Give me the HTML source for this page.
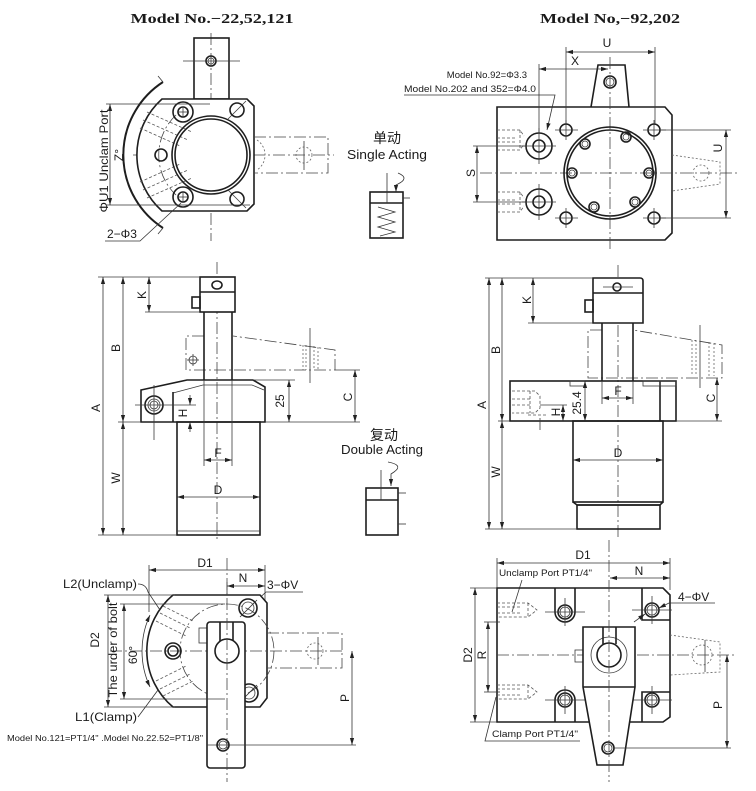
<!DOCTYPE html>
<html><head><meta charset="utf-8"><style>
html,body{margin:0;padding:0;background:#fff;}
svg{display:block;}
.k{stroke:#1e1e1e;stroke-width:1.6;fill:none;}
.kf{stroke:#1e1e1e;stroke-width:1.6;fill:#fff;}
.t{stroke:#3a3a3a;stroke-width:0.8;fill:none;}
.c{stroke:#444;stroke-width:0.8;fill:none;stroke-dasharray:12 3 2 3;}
.h{stroke:#555;stroke-width:0.8;fill:none;stroke-dasharray:3 2;}
.o{stroke:#666;stroke-width:0.8;fill:none;stroke-dasharray:2 2;}
.dm{stroke:#333;stroke-width:0.8;fill:none;}
text{font-family:"Liberation Sans","Noto Sans CJK SC",sans-serif;fill:#1a1a1a;}
.tt{font-family:"Liberation Serif",serif;font-weight:bold;font-size:14px;}
.l{font-size:12px;}
.s{font-size:9.5px;}
</style></head><body>
<svg width="756" height="791" viewBox="0 0 756 791" xmlns="http://www.w3.org/2000/svg">
<defs>
<marker id="a" viewBox="0 0 10 10" refX="10" refY="5" markerWidth="7" markerHeight="7" markerUnits="userSpaceOnUse" orient="auto-start-reverse"><path d="M0,2 L10,5 L0,8 z" fill="#222"/></marker>
</defs>

<!-- ================= TOP LEFT ================= -->
<text class="tt" x="212" y="23" text-anchor="middle" textLength="163" lengthAdjust="spacingAndGlyphs">Model No.−22,52,121</text>
<line class="c" x1="211" y1="33" x2="211" y2="241"/>
<line class="c" x1="133" y1="155" x2="334" y2="155"/>
<rect class="k" x="194" y="38" width="35" height="61"/>
<circle class="k" cx="211" cy="61" r="5"/><circle class="t" cx="211" cy="61" r="3"/>
<line class="t" x1="183" y1="61" x2="240" y2="61"/>
<path class="kf" d="M162,99 L247,99 L254,106 L254,204 L247,211 L162,211 A75,75 0 0 1 162,99 Z"/>
<path d="M163,82 A87,87 0 0 0 163,228" stroke="#1e1e1e" stroke-width="2" fill="none"/>
<line class="t" x1="163" y1="82" x2="158" y2="76"/><line class="t" x1="163" y1="228" x2="158" y2="234"/>
<path class="c" d="M176,115 A55,55 0 0 0 176,195"/>
<line class="h" x1="143" y1="120" x2="188" y2="140"/><line class="h" x1="147" y1="112" x2="192" y2="132"/><line class="h" x1="140" y1="128" x2="180" y2="146"/>
<line class="h" x1="143" y1="190" x2="188" y2="170"/><line class="h" x1="147" y1="198" x2="192" y2="178"/><line class="h" x1="140" y1="182" x2="180" y2="164"/>
<circle class="k" cx="211" cy="155" r="39"/><circle class="k" cx="211" cy="155" r="36"/>
<circle class="k" cx="183" cy="112" r="10"/><circle class="k" cx="183" cy="112" r="5"/>
<line class="t" x1="179" y1="112" x2="187" y2="112"/><line class="t" x1="183" y1="108" x2="183" y2="116"/>
<circle class="k" cx="183" cy="197" r="10"/><circle class="k" cx="183" cy="197" r="5"/>
<line class="t" x1="179" y1="197" x2="187" y2="197"/><line class="t" x1="183" y1="193" x2="183" y2="201"/>
<circle class="k" cx="237" cy="110" r="7"/><line class="t" x1="228" y1="119" x2="246" y2="101"/>
<circle class="k" cx="237" cy="199" r="7"/><line class="t" x1="228" y1="190" x2="246" y2="208"/>
<circle class="k" cx="161" cy="155" r="6"/>
<path class="o" d="M257,140 A18,18 0 0 1 257,170"/>
<path class="c" d="M254,137 L328,137 L328,173 L254,173"/>
<circle class="o" cx="304" cy="155" r="8"/>
<line class="t" x1="304" y1="141" x2="304" y2="170"/>
<line class="dm" x1="106" y1="104" x2="210" y2="104"/><line class="dm" x1="106" y1="205" x2="250" y2="205"/>
<line class="dm" x1="110" y1="104" x2="110" y2="205" marker-start="url(#a)" marker-end="url(#a)"/>
<text class="l" transform="translate(104,161) rotate(-90)" text-anchor="middle" dominant-baseline="central" textLength="103" lengthAdjust="spacingAndGlyphs">ΦU1 Unclam Port</text>
<text class="l" transform="translate(119,155) rotate(-90)" text-anchor="middle" dominant-baseline="central" font-size="11">Z°</text>
<text class="l" x="107" y="238">2−Φ3</text>
<path class="dm" d="M105,241 L140,241 L181,203"/>

<!-- single acting -->
<text x="387" y="143" text-anchor="middle" font-size="14">单动</text>
<text x="387" y="159" text-anchor="middle" font-size="12.5" textLength="80" lengthAdjust="spacingAndGlyphs">Single Acting</text>
<rect class="k" x="370" y="192" width="33" height="46"/>
<line class="k" x1="370" y1="203" x2="403" y2="203"/>
<line class="dm" x1="387" y1="173" x2="387" y2="203"/>
<path class="dm" d="M378,207 L395,212 L378,217 L395,222 L378,227 L395,232 L380,236"/>
<line class="dm" x1="403" y1="198" x2="410" y2="198"/>
<path class="dm" d="M398,173 Q410,178 398,184 L396,185 L396,192" marker-end="url(#a)"/>

<!-- ================= TOP RIGHT ================= -->
<text class="tt" x="610" y="23" text-anchor="middle" textLength="140" lengthAdjust="spacingAndGlyphs">Model No,−92,202</text>
<path class="k" d="M497,107 L665,107 L672,115 L672,233 L665,240 L497,240 Z"/>
<path class="k" d="M591,107 L598,65 L625,65 L629,107"/>
<circle class="k" cx="610" cy="82" r="6"/><circle class="t" cx="610" cy="82" r="4"/>
<line class="c" x1="610" y1="57" x2="610" y2="250"/>
<line class="c" x1="480" y1="173" x2="740" y2="173"/>
<circle class="k" cx="610" cy="173" r="46"/><circle class="k" cx="610" cy="173" r="43"/>
<g class="k">
<circle cx="626" cy="137" r="5"/><circle cx="585" cy="144" r="5"/><circle cx="572" cy="173" r="5"/>
<circle cx="649" cy="173" r="5"/><circle cx="594" cy="207" r="5"/><circle cx="635" cy="202" r="5"/>
</g>
<g class="t">
<circle cx="626" cy="137" r="3"/><circle cx="585" cy="144" r="3"/><circle cx="572" cy="173" r="3"/>
<circle cx="649" cy="173" r="3"/><circle cx="594" cy="207" r="3"/><circle cx="635" cy="202" r="3"/>
</g>
<g class="k">
<circle cx="566" cy="130" r="6"/><circle cx="654" cy="130" r="6"/><circle cx="566" cy="218" r="6"/><circle cx="654" cy="218" r="6"/>
<circle cx="539" cy="146" r="13"/><circle cx="539" cy="146" r="6"/>
<circle cx="539" cy="202" r="13"/><circle cx="539" cy="202" r="6"/>
</g>
<g class="t">
<line x1="555" y1="130" x2="578" y2="130"/><line x1="643" y1="130" x2="666" y2="130"/>
<line x1="555" y1="218" x2="578" y2="218"/><line x1="643" y1="218" x2="666" y2="218"/>
<line x1="566" y1="120" x2="566" y2="140"/><line x1="654" y1="120" x2="654" y2="140"/>
<line x1="566" y1="208" x2="566" y2="228"/><line x1="654" y1="208" x2="654" y2="228"/>
<line x1="522" y1="146" x2="556" y2="146"/><line x1="539" y1="128" x2="539" y2="164"/>
<line x1="522" y1="202" x2="556" y2="202"/><line x1="539" y1="184" x2="539" y2="220"/>
</g>
<path class="h" d="M497,130 L520,130 L524,136 M497,150 L520,150 L524,144 M520,130 L520,150 M497,138 L515,138 M497,142 L515,142"/>
<path class="h" d="M497,192 L520,192 L524,198 M497,212 L520,212 L524,206 M520,192 L520,212 M497,200 L515,200 M497,204 L515,204"/>
<path class="o" d="M672,155 L720,162 L720,184 L672,191"/>
<circle class="o" cx="701" cy="173" r="8"/>
<line class="t" x1="566" y1="47" x2="566" y2="124"/><line class="t" x1="655" y1="47" x2="655" y2="124"/>
<line class="dm" x1="566" y1="52" x2="655" y2="52" marker-start="url(#a)" marker-end="url(#a)"/>
<text class="l" x="607" y="47" text-anchor="middle">U</text>
<line class="t" x1="539" y1="64" x2="539" y2="133"/>
<line class="dm" x1="539" y1="69" x2="608" y2="69" marker-start="url(#a)" marker-end="url(#a)"/>
<text class="l" x="575" y="65" text-anchor="middle">X</text>
<text class="s" x="527" y="78" text-anchor="end">Model No.92=Φ3.3</text>
<text class="s" x="404" y="92" textLength="132" lengthAdjust="spacingAndGlyphs">Model No.202 and  352=Φ4.0</text>
<path class="dm" d="M404,95 L555,95 L547,130" marker-end="url(#a)"/>
<line class="t" x1="660" y1="130" x2="731" y2="130"/><line class="t" x1="660" y1="218" x2="731" y2="218"/>
<line class="dm" x1="726" y1="130" x2="726" y2="218" marker-start="url(#a)" marker-end="url(#a)"/>
<text class="l" transform="translate(718,148) rotate(-90)" text-anchor="middle" dominant-baseline="central">U</text>
<line class="t" x1="473" y1="146" x2="526" y2="146"/><line class="t" x1="473" y1="202" x2="526" y2="202"/>
<line class="dm" x1="477" y1="146" x2="477" y2="202" marker-start="url(#a)" marker-end="url(#a)"/>
<text class="l" transform="translate(471,173) rotate(-90)" text-anchor="middle" dominant-baseline="central">S</text>

<!-- ================= MIDDLE LEFT ================= -->
<line class="c" x1="217" y1="262" x2="217" y2="540"/>
<path class="c" d="M204,336 L186,336 L186,370 L335,370 L335,350 L233,336"/>
<circle class="t" cx="193" cy="360" r="4"/><line class="t" x1="187" y1="360" x2="199" y2="360"/><line class="t" x1="193" y1="354" x2="193" y2="366"/>
<line class="t" x1="310" y1="328" x2="310" y2="383"/>
<g class="o"><line x1="303" y1="345" x2="303" y2="370"/><line x1="306" y1="345" x2="306" y2="370"/><line x1="314" y1="346" x2="314" y2="370"/><line x1="318" y1="347" x2="318" y2="370"/></g>
<rect class="kf" x="200" y="277" width="35" height="35"/>
<line class="k" x1="200" y1="292" x2="235" y2="292"/>
<ellipse class="k" cx="217" cy="285" rx="5" ry="4"/>
<rect class="k" x="192" y="297" width="8" height="11"/>
<line class="k" x1="204" y1="312" x2="204" y2="380"/><line class="k" x1="232" y1="312" x2="232" y2="380"/>
<path class="k" d="M141,390 L187,380 L253,380 L265,387 L265,422 L141,422 Z"/>
<path class="t" d="M173,393 L203,385 L252,385 L264,390"/>
<line class="k" x1="173" y1="392" x2="173" y2="422"/>
<circle class="k" cx="154" cy="405" r="9"/><circle class="t" cx="154" cy="405" r="6"/><circle class="t" cx="154" cy="405" r="4"/>
<line class="t" x1="135" y1="405" x2="196" y2="405"/><line class="t" x1="154" y1="385" x2="154" y2="440"/>
<rect class="k" x="177" y="422" width="83" height="113"/>
<line class="t" x1="177" y1="531" x2="260" y2="531"/>
<line class="t" x1="204" y1="380" x2="204" y2="466"/><line class="t" x1="232" y1="380" x2="232" y2="466"/>
<line class="dm" x1="204" y1="460" x2="232" y2="460" marker-start="url(#a)" marker-end="url(#a)"/>
<text class="l" x="218" y="457" text-anchor="middle">F</text>
<line class="dm" x1="177" y1="497" x2="260" y2="497" marker-start="url(#a)" marker-end="url(#a)"/>
<text class="l" x="218" y="494" text-anchor="middle">D</text>
<line class="dm" x1="190" y1="395" x2="190" y2="405" marker-end="url(#a)"/>
<line class="dm" x1="190" y1="432" x2="190" y2="422" marker-end="url(#a)"/>
<text class="l" transform="translate(183,413) rotate(-90)" text-anchor="middle" dominant-baseline="central">H</text>
<line class="t" x1="253" y1="380" x2="295" y2="380"/><line class="t" x1="265" y1="422" x2="360" y2="422"/><line class="t" x1="335" y1="370" x2="360" y2="370"/>
<line class="dm" x1="289" y1="380" x2="289" y2="422" marker-start="url(#a)" marker-end="url(#a)"/>
<text class="l" transform="translate(280,401) rotate(-90)" text-anchor="middle" dominant-baseline="central">25</text>
<line class="dm" x1="355" y1="370" x2="355" y2="422" marker-start="url(#a)" marker-end="url(#a)"/>
<text class="l" transform="translate(348,397) rotate(-90)" text-anchor="middle" dominant-baseline="central">C</text>
<g class="t"><line x1="98" y1="277" x2="200" y2="277"/><line x1="145" y1="312" x2="200" y2="312"/><line x1="118" y1="422" x2="141" y2="422"/><line x1="98" y1="535" x2="177" y2="535"/></g>
<line class="dm" x1="103" y1="277" x2="103" y2="535" marker-start="url(#a)" marker-end="url(#a)"/>
<line class="dm" x1="123" y1="277" x2="123" y2="422" marker-start="url(#a)" marker-end="url(#a)"/>
<line class="dm" x1="123" y1="422" x2="123" y2="535" marker-start="url(#a)" marker-end="url(#a)"/>
<line class="dm" x1="149" y1="277" x2="149" y2="312" marker-start="url(#a)" marker-end="url(#a)"/>
<text class="l" transform="translate(96,408) rotate(-90)" text-anchor="middle" dominant-baseline="central">A</text>
<text class="l" transform="translate(116,348) rotate(-90)" text-anchor="middle" dominant-baseline="central">B</text>
<text class="l" transform="translate(116,478) rotate(-90)" text-anchor="middle" dominant-baseline="central">W</text>
<text class="l" transform="translate(142,295) rotate(-90)" text-anchor="middle" dominant-baseline="central">K</text>

<!-- double acting -->
<text x="384" y="440" text-anchor="middle" font-size="14">复动</text>
<text x="382" y="454" text-anchor="middle" font-size="12.5" textLength="82" lengthAdjust="spacingAndGlyphs">Double Acting</text>
<rect class="k" x="366" y="488" width="32" height="47"/>
<line class="k" x1="366" y1="500" x2="398" y2="500"/>
<line class="dm" x1="381" y1="470" x2="381" y2="500"/>
<line class="dm" x1="398" y1="493" x2="406" y2="493"/><line class="dm" x1="398" y1="524" x2="406" y2="524"/>
<path class="dm" d="M388,462 Q404,465 394,472 L391,474 L391,486" marker-end="url(#a)"/>

<!-- ================= MIDDLE RIGHT ================= -->
<line class="c" x1="618" y1="265" x2="618" y2="540"/>
<path class="c" d="M602,330 L588,330 L588,378 L722,378 L722,345 L633,330"/>
<line class="t" x1="700" y1="325" x2="700" y2="388"/>
<g class="o"><line x1="692" y1="340" x2="692" y2="376"/><line x1="696" y1="340" x2="696" y2="376"/><line x1="709" y1="342" x2="709" y2="376"/><line x1="714" y1="343" x2="714" y2="376"/></g>
<path class="kf" d="M593,278 L640,278 Q643,278 643,281 L643,323 L593,323 Z"/>
<line class="k" x1="593" y1="293" x2="643" y2="293"/>
<circle class="k" cx="617" cy="287" r="4"/><line class="t" x1="603" y1="287" x2="633" y2="287"/>
<rect class="k" x="585" y="300" width="8" height="12"/>
<line class="k" x1="602" y1="323" x2="602" y2="381"/><line class="k" x1="633" y1="323" x2="633" y2="381"/>
<rect class="k" x="510" y="381" width="166" height="40"/>
<line class="k" x1="660" y1="381" x2="660" y2="421"/>
<rect class="t" x="570" y="381" width="15" height="5"/><rect class="t" x="643" y="381" width="17" height="5"/><rect class="t" x="660" y="381" width="16" height="5"/>
<path class="h" d="M512,391 L535,391 L540,396 L540,408 L535,413 L512,413 M512,399 L530,399 M512,405 L530,405 M530,391 L530,413 M528,415 L548,415"/>
<line class="t" x1="540" y1="418" x2="540" y2="430"/>
<rect class="k" x="573" y="421" width="90" height="81"/>
<path class="k" d="M573,502 L577,505 L660,505 L663,502"/>
<rect class="k" x="577" y="505" width="83" height="24"/>
<line class="t" x1="602" y1="381" x2="602" y2="404"/><line class="t" x1="633" y1="381" x2="633" y2="404"/>
<line class="dm" x1="602" y1="398" x2="633" y2="398" marker-start="url(#a)" marker-end="url(#a)"/>
<text class="l" x="618" y="395" text-anchor="middle">F</text>
<line class="dm" x1="573" y1="460" x2="663" y2="460" marker-start="url(#a)" marker-end="url(#a)"/>
<text class="l" x="618" y="457" text-anchor="middle">D</text>
<line class="dm" x1="585" y1="381" x2="585" y2="421" marker-start="url(#a)" marker-end="url(#a)"/>
<text class="l" transform="translate(577,403) rotate(-90)" text-anchor="middle" dominant-baseline="central">25.4</text>
<line class="t" x1="540" y1="405" x2="567" y2="405"/>
<line class="dm" x1="563" y1="405" x2="563" y2="421" marker-start="url(#a)" marker-end="url(#a)"/>
<text class="l" transform="translate(556,412) rotate(-90)" text-anchor="middle" dominant-baseline="central">H</text>
<line class="t" x1="676" y1="421" x2="722" y2="421"/>
<line class="dm" x1="717" y1="378" x2="717" y2="421" marker-start="url(#a)" marker-end="url(#a)"/>
<text class="l" transform="translate(711,398) rotate(-90)" text-anchor="middle" dominant-baseline="central">C</text>
<g class="t"><line x1="485" y1="278" x2="593" y2="278"/><line x1="528" y1="323" x2="593" y2="323"/><line x1="498" y1="421" x2="510" y2="421"/><line x1="485" y1="529" x2="577" y2="529"/></g>
<line class="dm" x1="489" y1="278" x2="489" y2="529" marker-start="url(#a)" marker-end="url(#a)"/>
<line class="dm" x1="502" y1="278" x2="502" y2="421" marker-start="url(#a)" marker-end="url(#a)"/>
<line class="dm" x1="502" y1="421" x2="502" y2="529" marker-start="url(#a)" marker-end="url(#a)"/>
<line class="dm" x1="533" y1="278" x2="533" y2="323" marker-start="url(#a)" marker-end="url(#a)"/>
<text class="l" transform="translate(482,405) rotate(-90)" text-anchor="middle" dominant-baseline="central">A</text>
<text class="l" transform="translate(496,350) rotate(-90)" text-anchor="middle" dominant-baseline="central">B</text>
<text class="l" transform="translate(496,472) rotate(-90)" text-anchor="middle" dominant-baseline="central">W</text>
<text class="l" transform="translate(527,300) rotate(-90)" text-anchor="middle" dominant-baseline="central">K</text>

<!-- ================= BOTTOM LEFT ================= -->
<line class="t" x1="149" y1="565" x2="149" y2="612"/><line class="t" x1="265" y1="565" x2="265" y2="600"/>
<line class="dm" x1="149" y1="570" x2="265" y2="570" marker-start="url(#a)" marker-end="url(#a)"/>
<text class="l" x="205" y="567" text-anchor="middle">D1</text>
<line class="t" x1="227" y1="582" x2="227" y2="622"/>
<line class="dm" x1="227" y1="586" x2="265" y2="586" marker-start="url(#a)" marker-end="url(#a)"/>
<text class="l" x="243" y="582" text-anchor="middle">N</text>
<text class="l" x="267" y="589">3−ΦV</text>
<path class="dm" d="M303,592 L266,592 L254,603"/>
<path class="kf" d="M173,595 L260,595 L267,603 L267,698 L260,707 L173,707 A73,73 0 0 1 173,595 Z"/>
<path class="c" d="M267,633 L342,633 L342,668 L267,668"/>
<circle class="o" cx="315" cy="651" r="8"/><line class="t" x1="318" y1="637" x2="318" y2="665"/>
<circle class="c" cx="227" cy="651" r="47"/>
<g class="h"><line x1="160" y1="613" x2="190" y2="628"/><line x1="156" y1="621" x2="186" y2="636"/><line x1="163" y1="606" x2="193" y2="621"/>
<line x1="160" y1="689" x2="190" y2="674"/><line x1="156" y1="681" x2="186" y2="666"/><line x1="163" y1="696" x2="193" y2="681"/></g>
<line class="c" x1="110" y1="651" x2="345" y2="651"/>
<circle class="k" cx="173" cy="651" r="8"/><circle class="k" cx="173" cy="651" r="5"/>
<circle class="k" cx="248" cy="608" r="9"/><circle class="t" cx="248" cy="608" r="6"/>
<circle class="k" cx="249" cy="693" r="9"/><circle class="t" cx="249" cy="693" r="6"/>
<line class="dm" x1="240" y1="617" x2="257" y2="600"/><line class="dm" x1="241" y1="701" x2="257" y2="685"/>
<rect class="t" x="199" y="628" width="8" height="15"/>
<circle class="t" cx="227" cy="651" r="18"/>
<rect class="kf" x="207" y="622" width="38" height="146" rx="3"/>
<path class="k" d="M220,622 L220,641 M233,622 L233,641"/>
<circle class="k" cx="227" cy="651" r="12"/>
<line class="t" x1="207" y1="745" x2="356" y2="745"/>
<circle class="k" cx="223" cy="745" r="6"/><circle class="t" cx="223" cy="745" r="4"/>
<line class="c" x1="227" y1="558" x2="227" y2="782"/>
<line class="dm" x1="352" y1="651" x2="352" y2="745" marker-start="url(#a)" marker-end="url(#a)"/>
<text class="l" transform="translate(345,698) rotate(-90)" text-anchor="middle" dominant-baseline="central">P</text>
<line class="t" x1="104" y1="595" x2="175" y2="595"/><line class="t" x1="104" y1="707" x2="175" y2="707"/>
<line class="dm" x1="108" y1="595" x2="108" y2="707" marker-start="url(#a)" marker-end="url(#a)"/>
<text class="l" transform="translate(95,640) rotate(-90)" text-anchor="middle" dominant-baseline="central">D2</text>
<line class="t" x1="120" y1="604" x2="225" y2="604"/><line class="t" x1="120" y1="699" x2="225" y2="699"/>
<line class="dm" x1="124" y1="604" x2="124" y2="699" marker-start="url(#a)" marker-end="url(#a)"/>
<text class="l" transform="translate(113,650) rotate(-90)" text-anchor="middle" dominant-baseline="central" textLength="95" lengthAdjust="spacingAndGlyphs">The urder of bolt</text>
<path class="dm" d="M150,615 A85,85 0 0 0 150,687" marker-start="url(#a)" marker-end="url(#a)"/>
<text class="l" transform="translate(133,655) rotate(-90)" text-anchor="middle" dominant-baseline="central">60°</text>
<text class="l" x="63" y="588" textLength="74" lengthAdjust="spacingAndGlyphs">L2(Unclamp)</text>
<path class="dm" d="M138,584 Q146,584 148,592 L160,610"/>
<text class="l" x="75" y="721" textLength="62" lengthAdjust="spacingAndGlyphs">L1(Clamp)</text>
<path class="dm" d="M138,717 L158,690"/>
<text x="7" y="741" font-size="8.6" textLength="196" lengthAdjust="spacingAndGlyphs">Model No.121=PT1/4" .Model No.22.52=PT1/8"</text>

<!-- ================= BOTTOM RIGHT ================= -->
<line class="t" x1="497" y1="558" x2="497" y2="588"/><line class="t" x1="670" y1="558" x2="670" y2="590"/>
<line class="dm" x1="497" y1="563" x2="670" y2="563" marker-start="url(#a)" marker-end="url(#a)"/>
<text class="l" x="583" y="559" text-anchor="middle">D1</text>
<line class="dm" x1="610" y1="578" x2="670" y2="578" marker-start="url(#a)" marker-end="url(#a)"/>
<text class="l" x="639" y="575" text-anchor="middle">N</text>
<text class="s" x="499" y="576" textLength="93" lengthAdjust="spacingAndGlyphs">Unclamp Port PT1/4"</text>
<path class="dm" d="M522,580 L512,612"/>
<path class="k" d="M497,588 L663,588 L670,595 L670,717 L663,722 L497,722 Z"/>
<path class="k" d="M555,588 L555,612 A10,10 0 0 0 575,612 L575,588"/>
<path class="k" d="M642,588 L642,620 L670,620"/>
<path class="k" d="M555,722 L555,700 A10,10 0 0 1 575,700 L575,722"/>
<path class="k" d="M642,722 L642,692 L670,692"/>
<g class="k"><circle cx="565" cy="612" r="7"/><circle cx="652" cy="610" r="7"/><circle cx="565" cy="700" r="7"/><circle cx="652" cy="700" r="7"/></g>
<g class="t"><circle cx="565" cy="612" r="5"/><circle cx="652" cy="610" r="5"/><circle cx="565" cy="700" r="5"/><circle cx="652" cy="700" r="5"/>
<line x1="545" y1="612" x2="585" y2="612"/><line x1="565" y1="598" x2="565" y2="626"/>
<line x1="632" y1="610" x2="672" y2="610"/><line x1="652" y1="596" x2="652" y2="624"/>
<line x1="545" y1="700" x2="585" y2="700"/><line x1="565" y1="686" x2="565" y2="714"/>
<line x1="632" y1="700" x2="672" y2="700"/><line x1="652" y1="686" x2="652" y2="714"/></g>
<path class="h" d="M497,603 L528,603 L537,610 L528,617 L497,617 M528,603 L528,617 M497,607 L520,607 M497,613 L520,613"/>
<path class="h" d="M497,685 L528,685 L537,692 L528,699 L497,699 M528,685 L528,699 M497,689 L520,689 M497,695 L520,695"/>
<path class="o" d="M670,635 L720,642 L720,672 L670,675"/>
<circle class="o" cx="702" cy="655" r="10"/><line class="t" x1="705" y1="640" x2="705" y2="672"/>
<line class="c" x1="497" y1="655" x2="735" y2="655"/>
<rect class="t" x="575" y="650" width="8" height="12"/>
<path class="kf" d="M583,627 L635,627 L635,687 L623,765 L597,765 L583,687 Z"/>
<line class="k" x1="583" y1="687" x2="635" y2="687"/>
<circle class="t" cx="609" cy="655" r="18"/>
<path class="k" d="M603,627 L603,644 M616,627 L616,644"/>
<circle class="k" cx="609" cy="655" r="12"/>
<circle class="k" cx="608" cy="748" r="6"/><circle class="t" cx="608" cy="748" r="4"/>
<line class="c" x1="609" y1="540" x2="609" y2="782"/>
<line class="t" x1="614" y1="748" x2="731" y2="748"/>
<line class="dm" x1="727" y1="655" x2="727" y2="748" marker-start="url(#a)" marker-end="url(#a)"/>
<text class="l" transform="translate(718,705) rotate(-90)" text-anchor="middle" dominant-baseline="central">P</text>
<line class="t" x1="484" y1="622" x2="500" y2="622"/><line class="t" x1="484" y1="692" x2="500" y2="692"/>
<line class="dm" x1="488" y1="622" x2="488" y2="692" marker-start="url(#a)" marker-end="url(#a)"/>
<text class="l" transform="translate(482,655) rotate(-90)" text-anchor="middle" dominant-baseline="central">R</text>
<line class="t" x1="470" y1="588" x2="497" y2="588"/><line class="t" x1="470" y1="722" x2="497" y2="722"/>
<line class="dm" x1="475" y1="588" x2="475" y2="722" marker-start="url(#a)" marker-end="url(#a)"/>
<text class="l" transform="translate(468,655) rotate(-90)" text-anchor="middle" dominant-baseline="central">D2</text>
<text class="l" x="678" y="601">4−ΦV</text>
<path class="dm" d="M715,603 L669,603 L659,608" marker-end="url(#a)"/>
<path class="dm" d="M634,622 L645,614" marker-end="url(#a)"/>
<text class="s" x="492" y="737" textLength="86" lengthAdjust="spacingAndGlyphs">Clamp Port PT1/4"</text>
<path class="dm" d="M580,741 L485,741 L496,697"/>
</svg>
</body></html>
